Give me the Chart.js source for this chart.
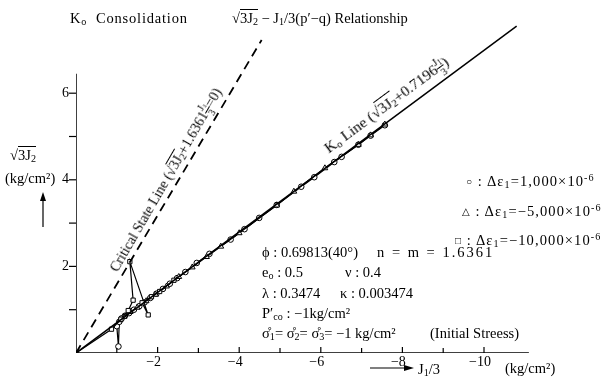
<!DOCTYPE html>
<html><head><meta charset="utf-8">
<script src="https://cdn.jsdelivr.net/npm/chart.js@4"></script>
<style>
html,body{margin:0;padding:0;background:#fff;}
#wrap{position:relative;width:606px;height:380px;overflow:hidden;font-family:"Liberation Serif","DejaVu Serif",serif;color:#000;}
canvas{position:absolute;left:0;top:0;}
.t{position:absolute;white-space:nowrap;font-size:14.5px;line-height:16px;}
.sq{border-top:1px solid #000;}
.fr{display:inline-block;vertical-align:middle;font-size:0.72em;text-align:center;line-height:1;}
.fr span{display:block;}
.fr span:first-child{border-bottom:1px solid #000;}
sub{font-size:0.7em;vertical-align:-0.2em;}
sup{font-size:0.7em;vertical-align:0.5em;}
.mk{font-size:10px;vertical-align:1px;}
.lg{letter-spacing:1.1px;}
</style>
</head><body>
<div id="wrap">
<canvas id="c" width="606" height="380"></canvas>
<div class="t" style="left:70px;top:10px;letter-spacing:0.8px;">K<sub>o</sub>&nbsp; Consolidation</div>
<div class="t" style="left:232px;top:10px;">√<span class="sq">3J<sub>2</sub></span> − J<sub>1</sub>/3(p′−q) Relationship</div>

<div class="t" style="left:10px;top:147px;">√<span class="sq">3J<sub>2</sub></span></div>
<div class="t" style="left:5px;top:170px;">(kg/cm²)</div>
<svg style="position:absolute;left:38px;top:192px;" width="10" height="36"><line x1="5" y1="35" x2="5" y2="6" stroke="#000" stroke-width="1.2"/><polygon points="5,0 2,9 8,9" fill="#000"/></svg>

<svg style="position:absolute;left:370px;top:362px;" width="44" height="12"><line x1="0" y1="6" x2="36" y2="6" stroke="#000" stroke-width="1.2"/><polygon points="44,6 34,3 34,9" fill="#000"/></svg>
<div class="t" style="left:418px;top:361px;">J<sub>1</sub>/3</div>
<div class="t" style="left:505px;top:360px;">(kg/cm²)</div>

<div class="t lg" style="left:466px;top:170px;"><span class="mk">○</span> : Δε<sub>1</sub>=1,000×10<sup>-6</sup></div>
<div class="t lg" style="left:462px;top:200px;"><span class="mk">△</span> : Δε<sub>1</sub>=−5,000×10<sup>-6</sup></div>
<div class="t lg" style="left:455px;top:229px;"><span class="mk">□</span> : Δε<sub>1</sub>=−10,000×10<sup>-6</sup></div>

<div class="t" style="left:262px;top:244px;">ϕ : 0.69813(40°)</div>
<div class="t" style="left:377px;top:244px;letter-spacing:2px;">n = m = 1.6361</div>
<div class="t" style="left:262px;top:264px;">e<sub>o</sub> : 0.5</div>
<div class="t" style="left:345px;top:264px;">ν : 0.4</div>
<div class="t" style="left:262px;top:285px;">λ : 0.3474</div>
<div class="t" style="left:340px;top:285px;">κ : 0.003474</div>
<div class="t" style="left:262px;top:305px;">P′<sub>co</sub> : −1kg/cm²</div>
<div class="t" style="left:262px;top:325px;">σ̊<sub>1</sub>= σ̊<sub>2</sub>= σ̊<sub>3</sub>= −1 kg/cm²</div>
<div class="t" style="left:430px;top:325px;">(Initial Streess)</div>

<div class="t" style="left:124px;top:254px;font-size:14px;transform-origin:0 100%;transform:rotate(-60deg);">Critical State Line (√<span class="sq">3J<sub>2</sub></span>+1.6361<span class="fr"><span>J<sub>1</sub></span><span>3</span></span>=0)</div>
<div class="t" style="left:334px;top:136px;font-size:15.5px;transform-origin:0 100%;transform:rotate(-36.5deg);">K<sub>o</sub> Line (√<span class="sq">3J<sub>2</sub></span>+0.7196<span class="fr"><span>J<sub>1</sub></span><span>3</span></span>)</div>
</div>
<script>
// ---- data ----
const circleX = [-1.00,-1.04,-1.06,-1.12,-1.20,-1.30,-1.42,-1.55,-1.68,-1.82,-1.97,-2.13,-2.30,-2.48,-2.68,-2.96,-3.27,-3.79,-4.13,-4.49,-4.92,-5.52,-5.84,-6.33,-6.51,-6.92,-7.22,-7.57];
const circleY = [0.62,0.15,0.72,0.80,0.86,0.92,1.00,1.08,1.17,1.27,1.37,1.48,1.60,1.73,1.87,2.08,2.29,2.62,2.86,3.12,3.42,3.84,4.06,4.41,4.53,4.81,5.02,5.26];
const triX = [-1.08,-1.18,-1.33,-1.50,-1.72,-1.95,-2.22,-2.52,-2.85,-3.20,-3.55,-4.00,-4.92,-5.34,-6.10,-6.92,-7.22,-7.57];
const triY = [0.76,0.84,0.95,1.05,1.20,1.35,1.54,1.76,1.98,2.22,2.46,2.77,3.41,3.73,4.27,4.81,5.03,5.28];
const sqX = [0,-0.87,-1.10,-1.28,-1.40,-1.32,-1.77,-1.62,-1.85,-2.05,-2.40];
const sqY = [0,0.55,0.78,0.98,1.22,2.11,0.88,1.16,1.30,1.42,1.68];
const critX = [0,-4.55];
const critY = [0,7.23];
const koX = [0,-10.8];
const koY = [0,7.55];
const xAxisX = [0,-11.1], xAxisY = [0,0];
const yAxisX = [0,0], yAxisY = [0,6.45];
const xTickVals = [-1,-2,-3,-4,-5,-6,-7,-8,-9,-10];
const xTickLabeled = [-2,-4,-6,-8,-10];
const yTickVals = [1,2,3,4,5,6];
const yTickLabeled = [2,4,6];

const pts = (xs, ys) => xs.map((x, i) => ({x, y: ys[i]}));
const INK = '#000';

const tickPlugin = {
  id: 'tickmarks',
  afterDatasetsDraw(chart) {
    const ctx = chart.ctx, xs = chart.scales.x, ys = chart.scales.y;
    const x0 = xs.getPixelForValue(0), y0 = ys.getPixelForValue(0);
    ctx.save();
    ctx.strokeStyle = INK; ctx.lineWidth = 1.2;
    xTickVals.forEach(v => {
      const px = xs.getPixelForValue(v);
      const len = xTickLabeled.includes(v) ? 6 : 5;
      ctx.beginPath(); ctx.moveTo(px, y0); ctx.lineTo(px, y0 - len); ctx.stroke();
    });
    yTickVals.forEach(v => {
      const py = ys.getPixelForValue(v);
      ctx.beginPath(); ctx.moveTo(x0, py); ctx.lineTo(x0 - 7, py); ctx.stroke();
    });
    ctx.restore();
  }
};

const tickFont = {family: '"Liberation Serif","DejaVu Serif",serif', size: 14};

new Chart(document.getElementById('c'), {
  type: 'scatter',
  data: {
    datasets: [
      {data: pts(xAxisX, xAxisY), showLine: true, borderColor: INK, borderWidth: 1.5, pointRadius: 0},
      {data: pts(yAxisX, yAxisY), showLine: true, borderColor: INK, borderWidth: 1.5, pointRadius: 0},
      {data: pts(critX, critY), showLine: true, borderColor: INK, borderWidth: 1.8, borderDash: [9, 6], pointRadius: 0},
      {data: pts(koX, koY), showLine: true, borderColor: INK, borderWidth: 1.5, pointRadius: 0},
      {data: pts(sqX, sqY), showLine: true, borderColor: INK, borderWidth: 1.2, pointStyle: 'rect', pointRadius: 3, pointBackgroundColor: '#fff', pointBorderColor: INK, pointBorderWidth: 1},
      {data: pts(triX, triY), showLine: true, borderColor: INK, borderWidth: 1.2, pointStyle: 'triangle', pointRadius: 3.3, pointBackgroundColor: '#fff', pointBorderColor: INK, pointBorderWidth: 1},
      {data: pts(circleX, circleY), showLine: true, borderColor: INK, borderWidth: 1.2, pointStyle: 'circle', pointRadius: 2.8, pointBackgroundColor: '#fff', pointBorderColor: INK, pointBorderWidth: 1}
    ]
  },
  options: {
    responsive: false,
    animation: false,
    devicePixelRatio: 1,
    layout: {autoPadding: false, padding: {left: 0, right: 20, top: 6.6, bottom: 0}},
    plugins: {legend: {display: false}, tooltip: {enabled: false}},
    scales: {
      x: {
        type: 'linear', reverse: true, min: -12.5, max: 0,
        grid: {display: false, drawTicks: false},
        border: {display: false},
        afterBuildTicks: s => { s.ticks = xTickVals.map(v => ({value: v})); },
        afterFit: s => { s.height = 27; s.paddingLeft = 0; s.paddingRight = 0; },
        ticks: {
          padding: 1, labelOffset: -4, color: INK, font: tickFont, maxRotation: 0, autoSkip: false,
          callback: v => xTickLabeled.includes(v) ? '\u2212' + Math.abs(v) : ''
        }
      },
      y: {
        type: 'linear', min: 0, max: 8,
        grid: {display: false, drawTicks: false},
        border: {display: false},
        afterBuildTicks: s => { s.ticks = yTickVals.map(v => ({value: v})); },
        afterFit: s => { s.width = 76; s.paddingTop = 0; s.paddingBottom = 0; },
        ticks: {
          padding: 7, color: INK, font: tickFont, autoSkip: false,
          callback: v => yTickLabeled.includes(v) ? String(v) : ''
        }
      }
    }
  },
  plugins: [tickPlugin]
});
</script>
</body></html>
